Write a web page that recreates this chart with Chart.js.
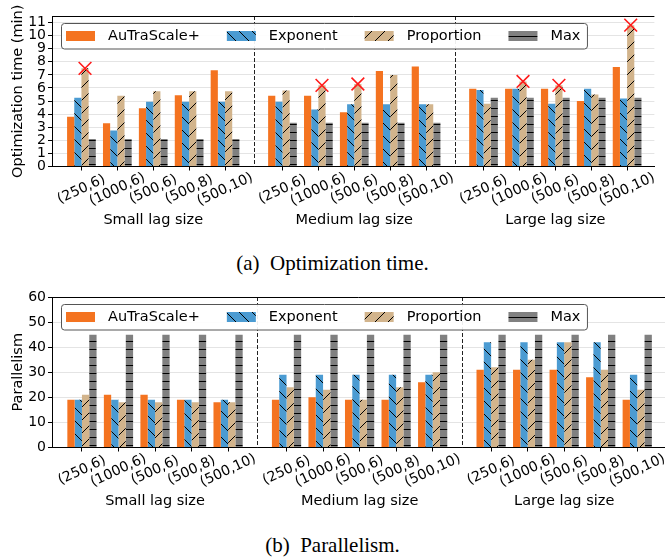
<!DOCTYPE html>
<html>
<head>
<meta charset="utf-8">
<script src="https://cdn.jsdelivr.net/npm/chart.js@4.4.0/dist/chart.umd.min.js"></script>
<style>
  body { margin: 0; background: #fff; width: 665px; height: 557px; position: relative; overflow: hidden; }
  .box { position: absolute; left: 0; width: 665px; height: 245px; }
  .cap { position: absolute; left: 0; width: 665px; text-align: center; font-family: 'Liberation Serif', serif; font-size: 21px; white-space: pre; color: #000; }
</style>
</head>
<body>
<div class="box" style="top:0"><canvas id="timeChart" width="665" height="245"></canvas></div>
<div class="cap" style="top:251px">(a)  Optimization time.</div>
<div class="box" style="top:281px"><canvas id="parChart" width="665" height="245"></canvas></div>
<div class="cap" style="top:533px">(b)  Parallelism.</div>
<script>
// categories
const configs = ['(250,6)', '(1000,6)', '(500,6)', '(500,8)', '(500,10)'];
const lagSizes = ['Small lag size', 'Medium lag size', 'Large lag size'];
const seriesNames = ['AuTraScale+', 'Exponent', 'Proportion', 'Max'];

// (a) optimization time in minutes, small / medium / large lag
const timeAuTraScale = [3.8, 3.3, 4.45, 5.45, 7.35, 5.4, 5.4, 4.15, 7.3, 7.65, 5.95, 5.95, 5.95, 5.0, 7.6];
const timeExponent   = [5.25, 2.75, 4.95, 4.95, 4.95, 4.95, 4.35, 4.75, 4.75, 4.75, 5.85, 5.95, 4.8, 5.95, 5.2];
const timeProportion = [7.5, 5.4, 5.75, 5.75, 5.75, 5.8, 6.2, 6.3, 7.0, 4.75, 4.8, 6.5, 6.2, 5.5, 10.8];
const timeMax        = [2.1, 2.1, 2.1, 2.1, 2.1, 3.35, 3.35, 3.35, 3.35, 3.35, 5.25, 5.25, 5.25, 5.25, 5.25];
// red crosses on the Proportion bars
const failedProportion = [0, 6, 7, 11, 12, 14];

// (b) parallelism
const parAuTraScale = [19, 21, 21, 19, 18, 19, 20, 19, 19, 26, 31, 31, 31, 28, 19];
const parExponent   = [19, 19, 19, 19, 19, 29, 29, 29, 29, 29, 42, 42, 42, 42, 29];
const parProportion = [21, 18, 18, 18, 18, 24, 23, 19, 24, 30, 32, 35, 42, 31, 23];
const parMax        = [45, 45, 45, 45, 45, 45, 45, 45, 45, 45, 45, 45, 45, 45, 45];

const timeTicks = [0, 1, 2, 3, 4, 5, 6, 7, 8, 9, 10, 11];
const parTicks = [0, 10, 20, 30, 40, 50, 60];

Chart.defaults.font.family = "'DejaVu Sans', sans-serif";
Chart.defaults.font.size = 14;
Chart.defaults.color = '#000';

// x positions of the groups (gap between lag sizes)
const lagGap = 5.6;
const xPos = [];
lagSizes.forEach((l, g) => configs.forEach((c, i) => xPos.push(g * lagGap + i)));
const dividers = [(xPos[4] + xPos[5]) / 2, (xPos[9] + xPos[10]) / 2];

function hatchFill(base, kind) {
  if (!kind) return base;
  const size = kind === '-' ? 8 : 13;
  const c = document.createElement('canvas');
  c.width = size; c.height = size;
  const g = c.getContext('2d');
  g.fillStyle = base;
  g.fillRect(0, 0, size, size);
  g.strokeStyle = '#000';
  g.lineWidth = 1;
  g.beginPath();
  if (kind === '-') {
    g.moveTo(0, 4.5); g.lineTo(size, 4.5);
  } else {
    for (let k = -1; k <= 1; k++) {
      if (kind === '\\') { g.moveTo(k * size, 0); g.lineTo(k * size + size, size); }
      else { g.moveTo(k * size, size); g.lineTo(k * size + size, 0); }
    }
  }
  g.stroke();
  return g.createPattern(c, 'repeat');
}

const fills = [
  hatchFill('#f47320'),
  hatchFill('#4b9bd2', '\\'),
  hatchFill('#d2b48c', '/'),
  hatchFill('#808080', '-')
];

const extras = {
  id: 'extras',
  beforeDatasetsDraw(chart) {
    const {ctx, chartArea: a, scales: {x}} = chart;
    ctx.save();
    ctx.strokeStyle = '#222';
    ctx.lineWidth = 1;
    ctx.setLineDash([4, 2]);
    dividers.forEach(v => {
      const px = Math.round(x.getPixelForValue(v)) + 0.5;
      ctx.beginPath(); ctx.moveTo(px, a.top); ctx.lineTo(px, a.bottom); ctx.stroke();
    });
    ctx.restore();
  },
  afterDraw(chart, args, opts) {
    const {ctx, chartArea: a, scales: {x}} = chart;
    ctx.save();
    // top spine
    ctx.strokeStyle = '#000';
    ctx.lineWidth = 1;
    ctx.beginPath();
    ctx.moveTo(a.left, Math.round(a.top) + 0.5);
    ctx.lineTo(a.right, Math.round(a.top) + 0.5);
    ctx.stroke();

    ctx.fillStyle = '#000';
    // rotated config labels
    ctx.font = "14px 'DejaVu Sans'";
    ctx.textAlign = 'center';
    ctx.textBaseline = 'middle';
    xPos.forEach((v, i) => {
      ctx.save();
      ctx.translate(x.getPixelForValue(v), a.bottom + 23);
      ctx.rotate(-25 * Math.PI / 180);
      ctx.fillText(configs[i % configs.length], 0, 0);
      ctx.restore();
    });
    // lag size labels
    ctx.font = "14.5px 'DejaVu Sans'";
    lagSizes.forEach((name, g) => {
      ctx.fillText(name, x.getPixelForValue(xPos[g * configs.length + 2]), a.bottom + 54);
    });
    // y title
    ctx.save();
    ctx.translate(18, (a.top + a.bottom) / 2);
    ctx.rotate(-Math.PI / 2);
    ctx.fillText(opts.yTitle, 0, 0);
    ctx.restore();

    // legend box inside the axes
    const top = 23, h = 25.5, swW = 29, swH = 10;
    ctx.font = "14.5px 'DejaVu Sans'";
    ctx.textAlign = 'left';
    let cx = 66;
    const items = chart.data.datasets.slice(0, 4).map(ds => {
      const it = {x: cx, ds};
      cx += swW + 13;
      it.tx = cx;
      cx += ctx.measureText(ds.label).width + 27;
      return it;
    });
    const last = items[items.length - 1];
    const right = last.tx + ctx.measureText(last.ds.label).width + 7;
    ctx.beginPath();
    ctx.roundRect(61.5, top + 0.5, right - 61.5, h, 3);
    ctx.fillStyle = 'rgba(255,255,255,0.92)';
    ctx.fill();
    ctx.strokeStyle = '#555';
    ctx.stroke();
    items.forEach(it => {
      ctx.fillStyle = it.ds.backgroundColor;
      ctx.fillRect(it.x, top + 8, swW, swH);
      ctx.fillStyle = '#000';
      ctx.fillText(it.ds.label, it.tx, top + 13.5);
    });
    ctx.restore();
  }
};

function makeChart(id, values, ticks, yMax, yTitle, failed) {
  const datasets = seriesNames.map((name, s) => ({
    type: 'bar',
    label: name,
    data: values[s].map((v, i) => ({x: xPos[i], y: v})),
    backgroundColor: fills[s],
    borderWidth: 0,
    categoryPercentage: 0.8,
    barPercentage: 1,
    order: 2
  }));
  if (failed) {
    datasets.push({
      type: 'scatter',
      label: 'failed',
      data: failed.map(i => ({x: xPos[i] + 0.1, y: values[2][i]})),
      pointStyle: 'crossRot',
      pointRadius: 9,
      borderColor: '#ff1a1a',
      backgroundColor: '#ff1a1a',
      borderWidth: 1.6,
      clip: false,
      order: 1
    });
  }
  return new Chart(document.getElementById(id), {
    type: 'bar',
    data: {datasets},
    plugins: [extras],
    options: {
      responsive: false,
      animation: false,
      events: [],
      layout: {padding: {top: 16, left: 0, right: 0, bottom: 0}},
      plugins: {
        legend: {display: false},
        tooltip: {enabled: false},
        extras: {yTitle}
      },
      scales: {
        x: {
          type: 'linear',
          min: xPos[0] - 0.82,
          max: xPos[xPos.length - 1] + 0.76,
          offset: false,
          afterBuildTicks: s => { s.ticks = xPos.map(v => ({value: v})); },
          afterFit: s => { s.height = 78.5; },
          ticks: {display: false},
          grid: {offset: false, drawOnChartArea: false, drawTicks: true, tickLength: 4, tickColor: '#000'},
          border: {color: '#000', width: 1}
        },
        y: {
          min: 0,
          max: yMax,
          afterBuildTicks: s => { s.ticks = ticks.map(v => ({value: v})); },
          afterFit: s => { s.width = 52; },
          ticks: {padding: 2, color: '#000', font: {size: 14}, autoSkip: false},
          grid: {color: '#e4e4e4', tickColor: '#000', tickLength: 4},
          border: {color: '#000', width: 1}
        }
      }
    }
  });
}

makeChart('timeChart', [timeAuTraScale, timeExponent, timeProportion, timeMax], timeTicks, 11.5,
  'Optimization time (min)', failedProportion);
makeChart('parChart', [parAuTraScale, parExponent, parProportion, parMax], parTicks, 60,
  'Parallelism', null);
</script>
</body>
</html>
